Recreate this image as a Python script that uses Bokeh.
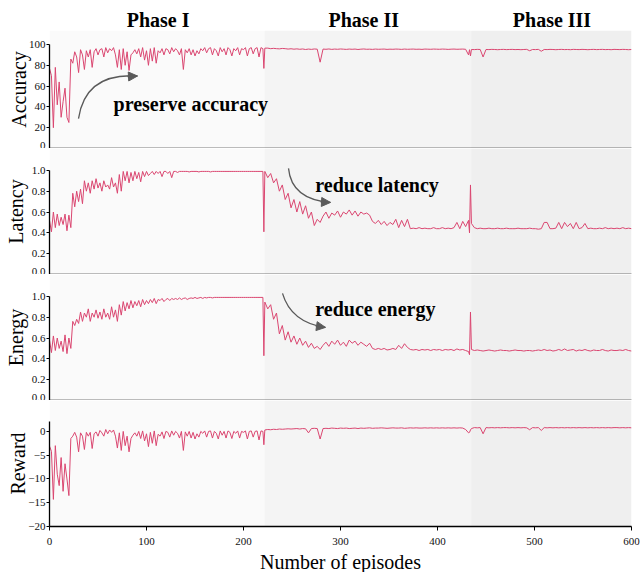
from bokeh.plotting import figure
from bokeh.layouts import column
from bokeh.models import (ColumnDataSource, Range1d, FixedTicker, BoxAnnotation,
                          Arrow, NormalHead, PrintfTickFormatter)
from bokeh.core.properties import value
from bokeh.embed import file_html
from bokeh.resources import INLINE

# ---------------- data ----------------
episodes = (list(range(0, 221, 2)) + [221] + list(range(222, 433, 3)) + [433, 434]
            + list(range(435, 601, 3)))

acc_p1 = [77, 70, 20, 78, 42, 64, 30, 45, 58, 30,
          25, 86, 82, 93, 88, 73, 95, 90, 76, 94,
          88, 95, 78, 93, 96, 90, 95, 96, 88, 97,
          92, 96, 94, 97, 90, 78, 95, 76, 96, 80,
          93, 75, 90, 92, 95, 91, 96, 88, 97, 85,
          94, 80, 96, 84, 97, 82, 94, 92, 96, 90,
          96, 95, 91, 97, 93, 96, 94, 90, 96, 76,
          95, 92, 96, 90, 95, 89, 94, 91, 96, 94,
          97, 92, 96, 97, 90, 96, 94, 89, 97, 93,
          96, 90, 97, 95, 89, 96, 94, 97, 90, 96,
          95, 97, 89, 96, 97, 91, 96, 97, 88, 97,
          96, 77]
acc_p2 = [96.5, 96.5, 96.0, 96.3, 96.0, 95.8, 96.2, 96.0, 95.6, 95.9,
          95.5, 95.8, 95.4, 95.7, 95.2, 95.6, 95.3, 95.7, 95.5, 83.0,
          95.6, 95.4, 95.7, 95.3, 95.6, 95.4, 95.7, 95.5, 95.3, 95.6,
          95.4, 95.6, 95.2, 95.5, 95.7, 95.4, 95.5, 95.3, 95.6, 95.4,
          95.5, 95.6, 95.3, 95.5, 95.4, 95.6, 95.5, 95.3, 95.6, 95.4,
          95.5, 95.6, 95.4, 95.5, 95.3, 95.6, 95.5, 95.4, 95.6, 95.5,
          95.4, 95.6, 95.5, 95.3, 95.5, 95.6, 95.4, 95.5, 95.6, 95.4,
          90.0, 95.0, 89.0]
acc_p3 = [95.2, 95.1, 95.3, 95.2, 88.0, 95.2, 95.1, 95.3, 95.2, 95.0,
          95.2, 95.3, 95.1, 95.2, 95.3, 95.1, 95.2, 95.0, 95.2, 95.3,
          94.0, 95.2, 95.1, 95.3, 93.5, 95.2, 95.1, 95.3, 95.2, 95.0,
          95.2, 95.3, 95.1, 95.2, 95.0, 95.3, 95.2, 95.1, 95.3, 95.2,
          95.0, 95.2, 95.3, 95.1, 95.2, 95.3, 95.1, 95.2, 95.0, 95.3,
          95.2, 95.1, 95.3, 95.2, 95.0, 95.2]

lat_p1 = [0.52, 0.41, 0.60, 0.45, 0.58, 0.47, 0.55, 0.48, 0.58, 0.42,
          0.57, 0.45, 0.78, 0.65, 0.80, 0.70, 0.82, 0.68, 0.90, 0.80,
          0.88, 0.78, 0.90, 0.82, 0.92, 0.83, 0.88, 0.80, 0.90, 0.84,
          0.86, 0.82, 0.93, 0.84, 0.88, 0.78, 0.96, 0.80, 0.99, 0.90,
          0.99, 0.88, 0.98, 0.90, 0.99, 0.92, 0.98, 0.89, 0.99, 0.94,
          0.99, 0.95, 0.97, 0.99, 0.96, 0.99, 0.97, 0.99, 0.94, 0.99,
          0.99, 0.97, 0.99, 0.93, 0.99, 0.99, 0.98, 0.99, 0.99, 0.99,
          0.99, 0.99, 0.985, 0.99, 0.99, 0.99, 0.99, 0.985, 0.99, 0.99,
          0.99, 0.99, 0.99, 0.985, 0.99, 0.99, 0.99, 0.99, 0.99, 0.99,
          0.99, 0.99, 0.99, 0.99, 0.99, 0.99, 0.99, 0.99, 0.99, 0.99,
          0.99, 0.99, 0.99, 0.99, 0.99, 0.99, 0.99, 0.99, 0.99, 0.99,
          0.99, 0.41]
lat_p2 = [0.99, 0.93, 0.97, 0.88, 0.92, 0.80, 0.86, 0.72, 0.78, 0.64,
          0.72, 0.60, 0.70, 0.58, 0.66, 0.54, 0.60, 0.47, 0.53, 0.50,
          0.56, 0.60, 0.54, 0.59, 0.57, 0.61, 0.55, 0.60, 0.58, 0.62,
          0.57, 0.61, 0.56, 0.60, 0.58, 0.59, 0.57, 0.51, 0.49, 0.52,
          0.48, 0.51, 0.47, 0.50, 0.48, 0.53, 0.45, 0.52, 0.46, 0.53,
          0.44, 0.445, 0.44, 0.45, 0.44, 0.445, 0.44, 0.44, 0.45, 0.44,
          0.44, 0.45, 0.44, 0.445, 0.44, 0.45, 0.50, 0.44, 0.51, 0.46,
          0.52, 0.40, 0.86]
lat_p3 = [0.49, 0.45, 0.44, 0.445, 0.44, 0.44, 0.445, 0.44, 0.44, 0.445,
          0.44, 0.44, 0.445, 0.44, 0.44, 0.44, 0.445, 0.44, 0.44, 0.44,
          0.445, 0.44, 0.44, 0.435, 0.44, 0.50, 0.50, 0.44, 0.44, 0.445,
          0.50, 0.44, 0.50, 0.46, 0.49, 0.44, 0.50, 0.44, 0.45, 0.49,
          0.44, 0.445, 0.44, 0.44, 0.445, 0.44, 0.45, 0.44, 0.445, 0.44,
          0.445, 0.44, 0.45, 0.44, 0.445, 0.44]

en_p1 = [0.58, 0.46, 0.62, 0.48, 0.60, 0.50, 0.57, 0.47, 0.63, 0.45,
         0.60, 0.50, 0.76, 0.72, 0.78, 0.74, 0.85, 0.76, 0.84, 0.80,
         0.88, 0.76, 0.84, 0.80, 0.87, 0.79, 0.85, 0.78, 0.88, 0.80,
         0.84, 0.78, 0.90, 0.80, 0.87, 0.76, 0.92, 0.82, 0.95, 0.86,
         0.94, 0.88, 0.96, 0.89, 0.95, 0.91, 0.96, 0.90, 0.97, 0.92,
         0.96, 0.93, 0.97, 0.94, 0.98, 0.93, 0.97, 0.96, 0.98, 0.95,
         0.97, 0.98, 0.96, 0.98, 0.97, 0.98, 0.97, 0.985, 0.97, 0.98,
         0.985, 0.97, 0.98, 0.985, 0.98, 0.99, 0.98, 0.985, 0.99, 0.98,
         0.99, 0.985, 0.99, 0.99, 0.985, 0.99, 0.99, 0.99, 0.99, 0.99,
         0.99, 0.99, 0.99, 0.99, 0.99, 0.99, 0.99, 0.99, 0.99, 0.99,
         0.99, 0.99, 0.99, 0.99, 0.99, 0.99, 0.99, 0.99, 0.99, 0.99,
         0.99, 0.43]
en_p2 = [0.945, 0.88, 0.92, 0.78, 0.84, 0.64, 0.72, 0.58, 0.66, 0.56,
         0.62, 0.54, 0.60, 0.53, 0.57, 0.51, 0.55, 0.50, 0.52, 0.49,
         0.53, 0.56, 0.52, 0.57, 0.54, 0.58, 0.53, 0.56, 0.52, 0.58,
         0.55, 0.57, 0.53, 0.56, 0.54, 0.52, 0.55, 0.50, 0.49, 0.50,
         0.49, 0.50, 0.485, 0.49, 0.50, 0.49, 0.53, 0.50, 0.545, 0.51,
         0.49, 0.485, 0.49, 0.48, 0.49, 0.485, 0.49, 0.48, 0.49, 0.485,
         0.49, 0.48, 0.49, 0.485, 0.49, 0.48, 0.495, 0.485, 0.49, 0.48,
         0.47, 0.44, 0.85]
en_p3 = [0.49, 0.48, 0.485, 0.48, 0.475, 0.48, 0.485, 0.48, 0.475, 0.48,
         0.485, 0.48, 0.48, 0.475, 0.48, 0.485, 0.48, 0.48, 0.475, 0.48,
         0.48, 0.475, 0.48, 0.485, 0.48, 0.49, 0.48, 0.485, 0.475, 0.48,
         0.49, 0.48, 0.495, 0.48, 0.485, 0.49, 0.475, 0.485, 0.48, 0.49,
         0.48, 0.475, 0.485, 0.48, 0.48, 0.49, 0.48, 0.475, 0.485, 0.48,
         0.48, 0.485, 0.48, 0.49, 0.48, 0.475]

rew_p1 = [-3.1, -4.2, -14.3, -3.0, -9.0, -11.4, -5.5, -12.6, -6.8, -10.0,
          -13.5, -1.5, -1.0, -0.2, -1.2, -4.3, -0.3, -1.0, -3.8, -0.2,
          -1.0, -0.2, -3.6, -0.5, -0.1, -1.0, 0.2, -0.3, -1.0, 0.4,
          -0.5, 0.3, -0.2, 0.3, -1.0, -3.5, -0.3, -4.0, 0.0, -3.0,
          -1.0, -4.3, -1.5, -0.8, -0.3, -1.0, 0.0, -1.5, 0.1, -2.0,
          -0.5, -3.2, -0.2, -2.5, 0.1, -3.0, -0.6, -1.0, -0.1, -1.5,
          0.0, -0.2, -1.2, 0.1, -0.8, 0.0, -0.4, -1.4, 0.0, -4.0,
          -0.1, -1.0, 0.0, -1.4, -0.2, -1.6, -0.5, -1.2, 0.0, -0.4,
          0.1, -1.2, 0.0, 0.1, -1.4, 0.0, -0.4, -1.6, 0.1, -0.8,
          0.0, -1.4, 0.1, -0.2, -1.5, 0.0, -0.4, 0.1, -1.4, 0.0,
          -0.2, 0.1, -1.6, 0.0, 0.1, -1.2, 0.0, 0.1, -1.8, 0.1,
          0.0, -2.8]
rew_p2 = [0.3, 0.4, 0.35, 0.45, 0.4, 0.5, 0.45, 0.5, 0.55, 0.5,
          0.55, 0.6, 0.5, 0.6, 0.55, -0.3, 0.6, 0.65, 0.6, -1.6,
          0.6, 0.65, 0.6, 0.7, 0.65, 0.6, 0.7, 0.65, 0.7, 0.6,
          0.65, 0.7, 0.6, 0.7, 0.65, 0.7, 0.75, 0.65, 0.7, 0.7,
          0.75, 0.7, 0.65, 0.7, 0.75, 0.7, 0.7, 0.75, 0.65, 0.7,
          0.75, 0.7, 0.75, 0.7, 0.7, 0.75, 0.7, 0.75, 0.7, 0.75,
          0.7, 0.75, 0.7, 0.75, 0.7, 0.75, 0.7, 0.75, 0.7, 0.4,
          -0.3, -0.2, 0.3]
rew_p3 = [0.6, 0.8, 0.75, 0.8, -0.5, 0.8, 0.75, 0.8, 0.75, 0.8,
          0.75, 0.8, 0.8, 0.75, 0.8, 0.75, 0.8, 0.75, 0.8, 0.75,
          0.35, 0.8, 0.75, 0.8, 0.2, 0.8, 0.75, 0.8, 0.75, 0.8,
          0.75, 0.8, 0.75, 0.8, 0.75, 0.8, 0.75, 0.8, 0.75, 0.8,
          0.75, 0.8, 0.75, 0.8, 0.75, 0.8, 0.75, 0.8, 0.75, 0.8,
          0.8, 0.75, 0.8, 0.75, 0.8, 0.75]

accuracy = acc_p1 + acc_p2 + acc_p3
latency = lat_p1 + lat_p2 + lat_p3
energy = en_p1 + en_p2 + en_p3
reward = rew_p1 + rew_p2 + rew_p3

phase_names = ["Phase I", "Phase II", "Phase III"]
phase_edges = [0, 221.6, 434.7, 600]
phase_label_x = [112, 324, 518]
x_ticks = [0, 100, 200, 300, 400, 500, 600]
acc_ticks = [0, 20, 40, 60, 80, 100]
unit_ticks = [0.0, 0.2, 0.4, 0.6, 0.8, 1.0]
rew_ticks = [-20, -15, -10, -5, 0]

# ---------------- style ----------------
SERIF = "Liberation Serif"
LINE = "#DA4670"
PHASE_FILL = ["#fafafa", "#f4f4f4", "#efefef"]
ARROW = "#5a5a5a"

src = ColumnDataSource(dict(ep=episodes, acc=accuracy, lat=latency, en=energy, rew=reward))
xr = Range1d(0, 600)


def base_fig(frame_h, y_range):
    p = figure(frame_width=582, frame_height=frame_h, x_range=xr, y_range=y_range,
               output_backend="svg", toolbar_location=None,
               min_border_left=49, min_border_right=9, min_border_top=0, min_border_bottom=0)
    p.outline_line_color = None
    p.grid.visible = False
    p.background_fill_color = "white"
    p.border_fill_color = None
    return p


def panel(frame_h, y0, y1, col, label, ticks, bounds, title_standoff, bottom=False,
          overrides=None, fmt=None):
    p = base_fig(frame_h, Range1d(y0, y1))
    for i in range(3):
        p.add_layout(BoxAnnotation(left=phase_edges[i], right=phase_edges[i + 1],
                                   fill_color=PHASE_FILL[i], fill_alpha=1.0,
                                   line_color=None, level="underlay"))
    p.line("ep", col, source=src, line_color=LINE, line_width=1.0)
    ya = p.yaxis[0]
    ya.ticker = FixedTicker(ticks=ticks)
    ya.bounds = bounds
    ya.axis_label = label
    ya.axis_label_text_font = SERIF
    ya.axis_label_text_font_style = "normal"
    ya.axis_label_text_font_size = "20px"
    ya.axis_label_text_color = "black"
    ya.axis_label_standoff = title_standoff
    ya.major_label_text_font = SERIF
    ya.major_label_text_font_size = "11px"
    ya.major_label_text_color = "#111111"
    ya.major_label_standoff = 1
    ya.major_tick_in = 0
    ya.major_tick_out = 3
    ya.minor_tick_line_color = None
    ya.minor_tick_out = 0
    ya.axis_line_color = "black"
    ya.axis_line_width = 1.3
    ya.major_tick_line_color = "black"
    if overrides:
        ya.major_label_overrides = overrides
    if fmt:
        ya.formatter = PrintfTickFormatter(format=fmt)
    xa = p.xaxis[0]
    xa.axis_line_color = "black"
    xa.axis_line_width = 1.3
    xa.minor_tick_line_color = None
    xa.minor_tick_out = 0
    xa.minor_tick_in = 0
    if bottom:
        xa.ticker = FixedTicker(ticks=x_ticks)
        xa.major_tick_in = 0
        xa.major_tick_out = 4
        xa.major_tick_line_color = "black"
        xa.major_label_text_font = SERIF
        xa.major_label_text_font_size = "11px"
        xa.major_label_text_color = "#111111"
        xa.major_label_standoff = 7
        xa.axis_label = "Number of episodes"
        xa.axis_label_text_font = SERIF
        xa.axis_label_text_font_style = "normal"
        xa.axis_label_text_font_size = "20px"
        xa.axis_label_text_color = "black"
        xa.axis_label_standoff = 3
    else:
        xa.ticker = FixedTicker(ticks=[])
        xa.major_tick_line_color = None
        xa.major_tick_out = 0
        xa.major_tick_in = 0
        xa.major_label_text_font_size = "0px"
        xa.major_label_standoff = 0
    return p


def curved_arrow(p, x0, y0, cx, cy, x1, y1, hx, hy):
    p.quadratic(x0=[x0], y0=[y0], cx=[cx], cy=[cy], x1=[x1], y1=[y1],
                line_color=ARROW, line_width=1.3)
    p.add_layout(Arrow(end=NormalHead(size=9, fill_color=ARROW, line_color=ARROW),
                       x_start=hx, y_start=hy, x_end=x1, y_end=y1,
                       line_color=ARROW, line_width=1.3))


def note(p, x, y, txt):
    p.text(x=[x], y=[y], text=[txt], text_font=value(SERIF), text_font_style="bold",
           text_font_size="20px", text_color="black", text_align="left",
           text_baseline="alphabetic")


# header strip with the phase titles
head = base_fig(30, Range1d(0, 30))
head.axis.visible = False
head.background_fill_color = None
head.text(x=phase_label_x, y=[11, 11, 11], text=phase_names, text_font=value(SERIF),
          text_font_style="bold", text_font_size="20px", text_color="black",
          text_align="center", text_baseline="alphabetic")

p1 = panel(118, 0, 113.46, "acc", "Accuracy", acc_ticks, (0, 100), -4)
curved_arrow(p1, 29.9, 28.8, 37.1, 73.1, 90.7, 69.7, 80.4, 69.2)
note(p1, 66, 42.8, "preserve accuracy")

p2 = panel(126, 0, 1.21, "lat", "Latency", unit_ticks, (0, 1), 2, fmt="%.1f")
curved_arrow(p2, 246.4, 1.019, 249.5, 0.721, 289.7, 0.692, 279.4, 0.697)
note(p2, 274, 0.862, "reduce latency")

p3 = panel(126, 0, 1.21, "en", "Energy", unit_ticks, (0, 1), 2, fmt="%.1f")
curved_arrow(p3, 240.2, 1.029, 249.0, 0.75, 284.5, 0.702, 274.2, 0.716)
note(p3, 274, 0.88, "reduce energy")

p4 = panel(126, -20, 6.5, "rew", "Reward", rew_ticks, (-20, 2.1), -4, bottom=True,
           overrides={-20: "\u221220", -15: "\u221215", -10: "\u221210", -5: "\u22125", 0: "0"})

layout = column(head, p1, p2, p3, p4, spacing=0)
open("out.html", "w").write(file_html(layout, INLINE))
